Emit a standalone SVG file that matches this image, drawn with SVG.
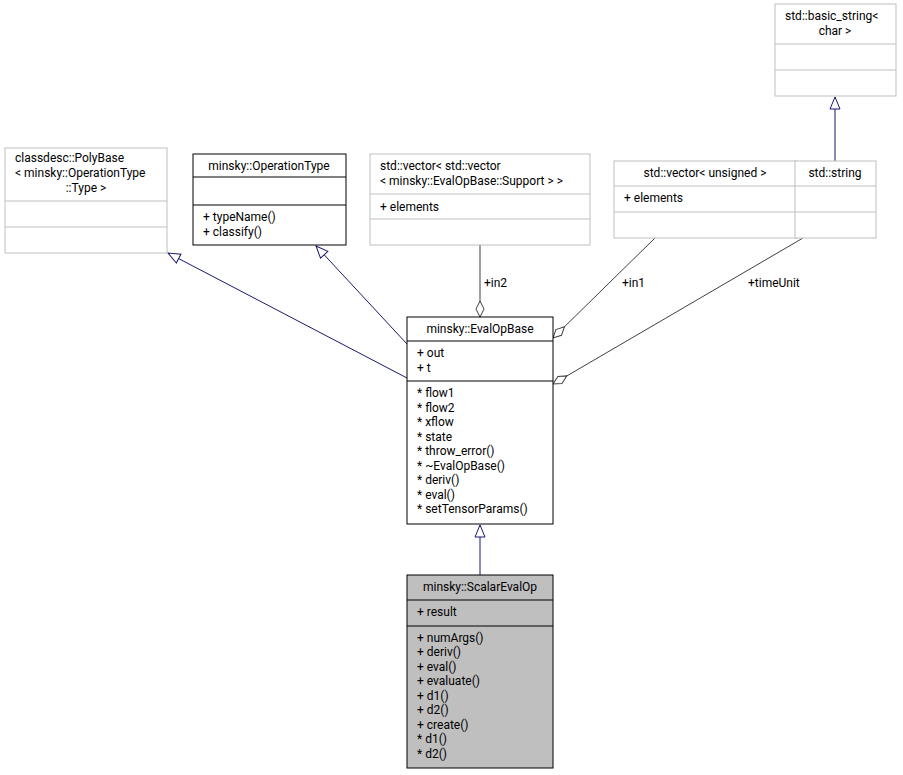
<svg xmlns="http://www.w3.org/2000/svg" width="903" height="775" viewBox="0 0 903 775">
<style>
text{font-family:Roboto,"Liberation Sans",sans-serif;font-size:12px;fill:#000}
.c{text-anchor:middle}
.g{fill:#fff;stroke:#bfbfbf;stroke-width:1}
.k{fill:#fff;stroke:#000;stroke-width:1}
.s{fill:#bfbfbf;stroke:#000;stroke-width:1}
.gl{stroke:#bfbfbf}
.kl{stroke:#000}
.inh{stroke:#191970;fill:none;stroke-width:1}
.agg{stroke:#404040;fill:none;stroke-width:1}
.lab{font-size:12px}
</style>
<defs>
<marker id="tri" markerWidth="14" markerHeight="14" refX="13" refY="6" orient="auto" markerUnits="userSpaceOnUse"><path d="M1,1 L13,6 L1,11 Z" fill="#fff" stroke="#191970"/></marker>
<marker id="dia" markerWidth="18" markerHeight="12" refX="17" refY="6" orient="auto" markerUnits="userSpaceOnUse"><path d="M1,6 L9,2 L17,6 L9,10 Z" fill="#fff" stroke="#404040"/></marker>
</defs>
<g id="edges">
<path class="inh" d="M407,378 L168,253" marker-end="url(#tri)"/>
<path class="inh" d="M407,344 L316,246" marker-end="url(#tri)"/>
<path class="inh" d="M835,161 L835,97" marker-end="url(#tri)"/>
<path class="inh" d="M480,575 L480,525" marker-end="url(#tri)"/>
<path class="agg" d="M480,245 L480,317" marker-end="url(#dia)"/>
<path class="agg" d="M655,238 L553,338" marker-end="url(#dia)"/>
<path class="agg" d="M803,238 L553,384" marker-end="url(#dia)"/>
<text x="484" y="287">+in2</text>
<text x="622" y="287">+in1</text>
<text x="748" y="287">+timeUnit</text>
</g>
<g id="polybase">
<rect class="g" x="5" y="148" width="162" height="105"/>
<line class="gl" x1="5" y1="201" x2="167" y2="201"/><line class="gl" x1="5" y1="227" x2="167" y2="227"/>
<text x="15" y="162">classdesc::PolyBase</text>
<text x="15" y="177">&lt; minsky::OperationType</text>
<text x="86" y="192" class="c">::Type &gt;</text>
</g>
<g id="optype">
<rect class="k" x="193" y="154" width="153" height="91"/>
<line class="kl" x1="193" y1="177" x2="346" y2="177"/><line class="kl" x1="193" y1="205" x2="346" y2="205"/>
<text x="269" y="170" class="c">minsky::OperationType</text>
<text x="203" y="221">+ typeName()</text>
<text x="203" y="236">+ classify()</text>
</g>
<g id="vecvec">
<rect class="g" x="370" y="154" width="220" height="91"/>
<line class="gl" x1="370" y1="194" x2="590" y2="194"/><line class="gl" x1="370" y1="219" x2="590" y2="219"/>
<text x="380" y="170">std::vector&lt; std::vector</text>
<text x="380" y="185">&lt; minsky::EvalOpBase::Support &gt; &gt;</text>
<text x="380" y="211">+ elements</text>
</g>
<g id="vecuns">
<rect class="g" x="614" y="161" width="183" height="77"/>
<line class="gl" x1="614" y1="186" x2="797" y2="186"/><line class="gl" x1="614" y1="212" x2="797" y2="212"/>
<text x="705" y="177" class="c">std::vector&lt; unsigned &gt;</text>
<text x="624" y="202">+ elements</text>
</g>
<g id="string">
<rect class="g" x="795" y="161" width="81" height="77"/>
<line class="gl" x1="795" y1="186" x2="876" y2="186"/><line class="gl" x1="795" y1="212" x2="876" y2="212"/>
<text x="835" y="177" class="c">std::string</text>
</g>
<g id="basicstring">
<rect class="g" x="775" y="4" width="121" height="92"/>
<line class="gl" x1="775" y1="44" x2="896" y2="44"/><line class="gl" x1="775" y1="70" x2="896" y2="70"/>
<text x="785" y="20">std::basic_string&lt;</text>
<text x="835" y="35" class="c">char &gt;</text>
</g>
<g id="evalopbase">
<rect class="k" x="407" y="317" width="146" height="207"/>
<line class="kl" x1="407" y1="341" x2="553" y2="341"/><line class="kl" x1="407" y1="381" x2="553" y2="381"/>
<text x="480" y="333" class="c">minsky::EvalOpBase</text>
<text x="417" y="357">+ out</text>
<text x="417" y="372">+ t</text>
<text x="417" y="397">* flow1</text>
<text x="417" y="412">* flow2</text>
<text x="417" y="426">* xflow</text>
<text x="417" y="441">* state</text>
<text x="417" y="455">* throw_error()</text>
<text x="417" y="470">* ~EvalOpBase()</text>
<text x="417" y="484">* deriv()</text>
<text x="417" y="499">* eval()</text>
<text x="417" y="513">* setTensorParams()</text>
</g>
<g id="scalarevalop">
<rect class="s" x="407" y="575" width="146" height="193"/>
<line class="kl" x1="407" y1="600" x2="553" y2="600"/><line class="kl" x1="407" y1="626" x2="553" y2="626"/>
<text x="480" y="591" class="c">minsky::ScalarEvalOp</text>
<text x="417" y="616">+ result</text>
<text x="417" y="642">+ numArgs()</text>
<text x="417" y="656">+ deriv()</text>
<text x="417" y="671">+ eval()</text>
<text x="417" y="685">+ evaluate()</text>
<text x="417" y="700">+ d1()</text>
<text x="417" y="714">+ d2()</text>
<text x="417" y="729">+ create()</text>
<text x="417" y="743">* d1()</text>
<text x="417" y="758">* d2()</text>
</g>
</svg>
